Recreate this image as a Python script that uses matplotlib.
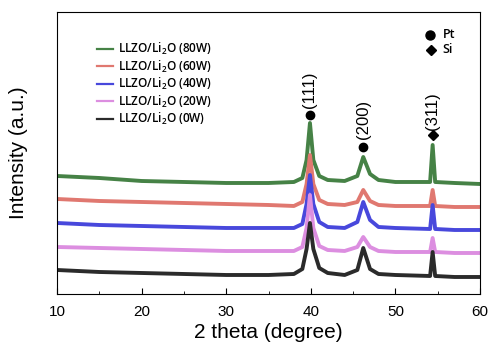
import matplotlib
matplotlib.use('Agg')
import matplotlib.pyplot as plt

plt.rcParams['font.family'] = ['Liberation Sans', 'DejaVu Sans']
plt.rcParams['mathtext.default'] = 'regular'

# 2 theta positions (degree) and intensities (offset stacked)
two_theta = [10, 15, 20, 25, 30, 35, 38, 39, 39.5, 39.9, 40.3, 41, 42, 44,
             45.5, 46.2, 47, 48, 50, 54.1, 54.4, 54.7, 57, 60]
i_80w = [118, 116, 113, 112, 111, 111, 112, 116, 134, 171, 134, 118, 114, 113,
         118, 137, 120, 114, 112, 112, 149, 112, 111, 110]
i_60w = [95, 93, 92, 91, 90, 89, 88, 92, 110, 139, 110, 94, 90, 89,
         92, 104, 93, 89, 88, 88, 104, 88, 87, 87]
i_40w = [71, 69, 68, 67, 66, 66, 66, 70, 90, 119, 90, 72, 67, 66,
         72, 92, 74, 67, 66, 65, 89, 65, 64, 64]
i_20w = [47, 46, 45, 44, 43, 43, 43, 47, 66, 99, 66, 48, 44, 43,
         47, 57, 47, 43, 42, 42, 56, 42, 41, 41]
i_0w = [24, 22, 21, 20, 19, 19, 20, 25, 45, 71, 45, 26, 21, 19,
        24, 46, 25, 20, 19, 18, 42, 18, 17, 17]

labels = ['LLZO/Li$_2$O (80W)', 'LLZO/Li$_2$O (60W)', 'LLZO/Li$_2$O (40W)',
          'LLZO/Li$_2$O (20W)', 'LLZO/Li$_2$O (0W)']
colors = ['#468246', '#e07870', '#4848dc', '#dc8ee0', '#2b2b2b']
series = [i_80w, i_60w, i_40w, i_20w, i_0w]

fig = plt.figure(figsize=(5.03, 3.58), dpi=100)
ax = fig.add_axes([0.1133, 0.1788, 0.841, 0.7877])

for y, c, lab in zip(series, colors, labels):
    ax.plot(two_theta, y, color=c, lw=2.8, label=lab, solid_joinstyle='round')

ax.set_xlim(10, 60)
ax.set_ylim(0, 282)
ax.set_xticks([10, 20, 30, 40, 50, 60])
ax.set_xticks([15, 25, 35, 45, 55], minor=True)
ax.set_yticks([])
ax.tick_params(axis='x', direction='in', length=4, labelsize=11, pad=8)
ax.tick_params(axis='x', which='minor', direction='in', length=2.5)
ax.set_xlabel('2 theta (degree)', fontsize=15, labelpad=3)
ax.set_ylabel('Intensity (a.u.)', fontsize=15, labelpad=21)

leg = ax.legend(loc='upper left', bbox_to_anchor=(0.07, 0.935), frameon=False,
                handlelength=1.3, handletextpad=0.5, labelspacing=0.12,
                prop={'family': 'Open Sans', 'weight': 'semibold', 'size': 8.5})
for ln in leg.get_lines():
    ln.set_linewidth(1.6)

# peak markers and indices
ax.plot(39.9, 179, 'ko', ms=6)
ax.text(39.9, 186, '(111)', rotation=90, ha='center', va='bottom', fontsize=12)
ax.plot(46.2, 147, 'ko', ms=6)
ax.text(46.2, 155, '(200)', rotation=90, ha='center', va='bottom', fontsize=12)
ax.plot(54.4, 159, 'kD', ms=5)
ax.text(54.4, 164, '(311)', rotation=90, ha='center', va='bottom', fontsize=12)

# Pt / Si key
ax.plot(54.1, 259, 'ko', ms=6.5)
ax.text(55.6, 259, 'Pt', va='center', fontsize=9, family='Open Sans',
        weight='semibold')
ax.plot(54.2, 244, 'kD', ms=5.5)
ax.text(55.6, 244, 'Si', va='center', fontsize=9, family='Open Sans',
        weight='semibold')

fig.savefig('out.png', dpi=100)
